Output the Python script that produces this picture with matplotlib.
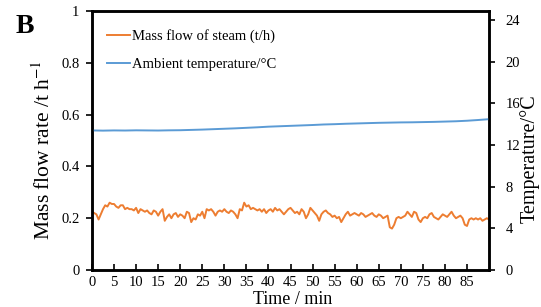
import numpy as np
import matplotlib
matplotlib.use('Agg')
import matplotlib.pyplot as plt

plt.rcParams['font.family'] = ['Liberation Serif', 'DejaVu Serif']
plt.rcParams['mathtext.fontset'] = 'stix'

# Mass flow of steam (t/h), sampled every 0.5 min from 0 to 90 min
steam = [
    0.225, 0.22, 0.215, 0.195, 0.215, 0.235, 0.25, 0.245, 0.26, 0.255,
    0.255, 0.245, 0.24, 0.25, 0.25, 0.235, 0.24, 0.235, 0.235, 0.23, 0.24,
    0.22, 0.235, 0.23, 0.225, 0.23, 0.22, 0.215, 0.23, 0.225, 0.21,
    0.225, 0.235, 0.19, 0.205, 0.215, 0.2, 0.215, 0.22, 0.205, 0.215,
    0.21, 0.2, 0.225, 0.22, 0.185, 0.2, 0.195, 0.215, 0.21, 0.225,
    0.2, 0.235, 0.23, 0.235, 0.225, 0.21, 0.225, 0.23, 0.225, 0.235,
    0.225, 0.22, 0.23, 0.225, 0.215, 0.2, 0.235, 0.23, 0.26, 0.245,
    0.25, 0.235, 0.24, 0.235, 0.23, 0.235, 0.225, 0.235, 0.22, 0.23,
    0.235, 0.225, 0.24, 0.23, 0.235, 0.225, 0.215, 0.225, 0.235, 0.24,
    0.23, 0.22, 0.225, 0.215, 0.235, 0.225, 0.2, 0.215, 0.24, 0.23,
    0.22, 0.21, 0.19, 0.215, 0.225, 0.23, 0.22, 0.215, 0.205, 0.21,
    0.2, 0.205, 0.185, 0.2, 0.215, 0.225, 0.21, 0.215, 0.22, 0.215,
    0.21, 0.22, 0.215, 0.205, 0.21, 0.215, 0.22, 0.21, 0.205, 0.215,
    0.21, 0.2, 0.205, 0.21, 0.165, 0.16, 0.175, 0.2, 0.205, 0.2,
    0.205, 0.21, 0.225, 0.215, 0.205, 0.225, 0.22, 0.195, 0.185, 0.2,
    0.205, 0.2, 0.215, 0.22, 0.205, 0.2, 0.195, 0.205, 0.215, 0.21,
    0.205, 0.215, 0.225, 0.21, 0.2, 0.205, 0.21, 0.2, 0.175, 0.17,
    0.195, 0.2, 0.195, 0.2, 0.195, 0.2, 0.19, 0.195, 0.2, 0.195,
]
steam_time = np.arange(len(steam)) * 0.5

# Ambient temperature (°C), every 2.5 min
temp = [
    13.40, 13.38, 13.40, 13.39, 13.41, 13.40, 13.39, 13.41, 13.42,
    13.45, 13.48, 13.52, 13.56, 13.60, 13.65, 13.70, 13.76, 13.80,
    13.84, 13.88, 13.92, 13.97, 14.00, 14.04, 14.07, 14.10, 14.13,
    14.15, 14.17, 14.18, 14.20, 14.22, 14.25, 14.28, 14.33, 14.40, 14.48,
]
temp_time = np.arange(len(temp)) * 2.5

orange = '#ED7D31'
blue = '#5B9BD5'

fig = plt.figure(figsize=(5.41, 3.07), dpi=100)
ax = fig.add_axes([0.170, 0.1205, 0.734, 0.8435])
ax2 = ax.twinx()

l1, = ax.plot(steam_time, steam, color=orange, lw=1.4, label='Mass flow of steam (t/h)')
l2, = ax2.plot(temp_time, temp, color=blue, lw=1.4, label='Ambient temperature/\u00b0C')

ax.set_xlim(0, 90)
ax.set_ylim(0, 1)
ax2.set_ylim(0, 24.86)
ax.set_xticks(np.arange(0, 90, 5))
ax.set_yticks([0, 0.2, 0.4, 0.6, 0.8, 1])
ax.set_yticklabels(['0', '0.2', '0.4', '0.6', '0.8', '1'])
ax2.set_yticks(np.arange(0, 25, 4))

for a in (ax, ax2):
    for s in a.spines.values():
        s.set_linewidth(1.8)
ax.tick_params(axis='x', direction='in', length=4, width=1.2, labelsize=10.5, pad=4)
ax.tick_params(axis='y', direction='out', length=4, width=1.2, labelsize=10.5, pad=5)
ax2.tick_params(axis='y', direction='out', length=4, width=1.2, labelsize=10.5, pad=8)

ax.set_xlabel('Time / min', fontsize=13)
ax.xaxis.set_label_coords(0.505, -0.08)
ax.set_ylabel('Mass flow rate /t h$^{\u22121}$', fontsize=15.5)
ax.yaxis.set_label_coords(-0.092, 0.463)
ax2.set_ylabel('Temperature/\u00b0C', fontsize=14.5)
ax2.yaxis.set_label_coords(1.078, 0.43)

ax.legend(handles=[l1, l2], loc='upper left', frameon=False, fontsize=10.5,
          handlelength=1.6, handletextpad=0.1, labelspacing=1.0,
          bbox_to_anchor=(0.005, 0.98))

fig.text(0.028, 0.892, 'B', fontsize=20, fontweight='bold')

fig.savefig('out.png', dpi=100)
